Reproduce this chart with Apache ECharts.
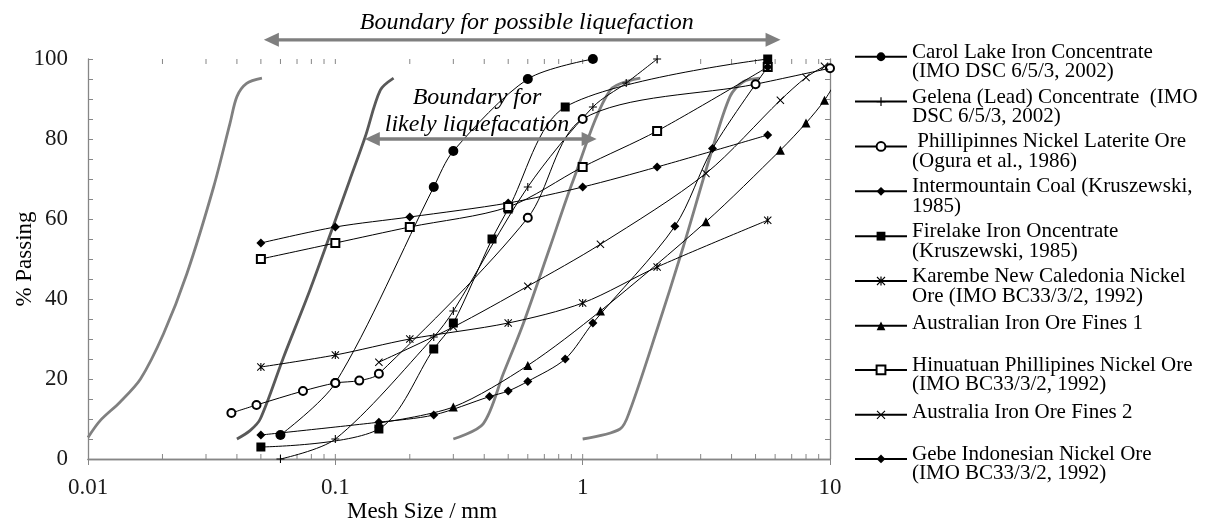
<!DOCTYPE html>
<html>
<head>
<meta charset="utf-8">
<script src="https://cdn.jsdelivr.net/npm/echarts@6/dist/echarts.min.js"></script>
<style>
  html, body { margin: 0; background: #fff; }
  #chart { width: 1211px; height: 527px; }
</style>
</head>
<body>
<div id="chart"></div>
<script>
// measured points [mesh size mm, % passing]
const carolLake = [[0.06, 6], [0.1, 19], [0.25, 68], [0.3, 77], [0.6, 95], [1.1, 100]];
const gelena = [[0.06, 0], [0.1, 5], [0.25, 30.5], [0.3, 37], [0.6, 68], [1.1, 88], [1.5, 94], [2, 100]];
const phillipinnes = [[0.038, 11.5], [0.048, 13.5], [0.074, 17], [0.1, 19], [0.125, 19.6], [0.15, 21.3], [0.6, 60.3], [1, 85], [5, 93.7], [10, 97.7]];
const intermountain = [[0.05, 54], [0.1, 58], [0.2, 60.5], [0.5, 64], [1, 68], [2, 73], [5.6, 81]];
const firelake = [[0.05, 3], [0.15, 7.5], [0.25, 27.5], [0.3, 34], [0.43, 55], [0.5, 62.5], [0.85, 88], [5.6, 100]];
const karembe = [[0.05, 23], [0.1, 26], [0.2, 30], [0.5, 34], [1, 39], [2, 48], [5.6, 59.7]];
const ausFines1 = [[0.15, 9], [0.3, 13], [0.6, 23.4], [1.18, 37], [3.15, 59.3], [6.3, 77.2], [8, 84], [9.5, 89.7], [11.2, 97]];
const hinuatuan = [[0.05, 50], [0.1, 54], [0.2, 58], [0.5, 63], [1, 73], [2, 82], [5.6, 98]];
const ausFines2 = [[0.15, 24.2], [0.3, 33], [0.6, 43.2], [1.18, 53.7], [3.15, 71.4], [6.3, 89.7], [8, 95.4], [9.5, 98.2]];
const gebe = [[0.05, 6], [0.15, 9.2], [0.25, 11], [0.42, 15.6], [0.5, 17], [0.6, 19.4], [0.85, 25], [1.1, 34], [2.36, 58.2], [3.35, 77.6], [5.6, 98]];

// boundary curves (grey)
const possibleLeft = [[0.01, 5.4], [0.0112, 9.6], [0.01346, 14.2], [0.0163, 20], [0.0202, 31.3], [0.0251, 46.3], [0.0322, 68], [0.0375, 83.9], [0.04, 90.6], [0.0438, 93.9], [0.0505, 95.2]];
const likelyLeft = [[0.04, 5], [0.0452, 7.1], [0.0497, 10], [0.0617, 25.4], [0.0789, 42.2], [0.1, 59.7], [0.1143, 69.7], [0.132, 80.5], [0.152, 92.2], [0.172, 95.2]];
const likelyRight = [[0.3, 5], [0.396, 8.8], [0.4775, 21.3], [0.575, 33.8], [0.738, 53], [0.916, 69.7], [1.29, 92.2], [1.71, 95.2]];
const possibleRight = [[1, 5], [1.416, 7.5], [1.55, 12], [1.99, 32], [2.55, 53], [3.27, 75.5], [3.94, 90.6], [4.46, 94.3], [5.2, 95.2]];

// annotation arrows / labels (data coords)
const possibleArrow = [[0.0514, 104.8], [6.31, 104.8]];
const likelyArrow = [[0.1316, 80], [1.139, 80]];
const possibleLabelAt = [0.594, 109.2];
const likelyLabelAt = [0.374, 86.9];

// inner log ticks
const logTicks = [0.02, 0.03, 0.04, 0.05, 0.06, 0.07, 0.08, 0.09, 0.1,
  0.2, 0.3, 0.4, 0.5, 0.6, 0.7, 0.8, 0.9, 1, 2, 3, 4, 5, 6, 7, 8, 9];

const serif = '"Liberation Serif", "Times New Roman", serif';
const axisGrey = '#868686';

const plusPath = 'path://M3.9,0H5.1V3.9H9V5.1H5.1V9H3.9V5.1H0V3.9H3.9Z';
const crossPath = 'path://M0,0.8L0.8,0L4.5,3.7L8.2,0L9,0.8L5.3,4.5L9,8.2L8.2,9L4.5,5.3L0.8,9L0,8.2L3.7,4.5Z';
const starPath = 'path://M0,0.8L0.8,0L4.5,3.7L8.2,0L9,0.8L5.3,4.5L9,8.2L8.2,9L4.5,5.3L0.8,9L0,8.2L3.7,4.5ZM3.9,0H5.1V9H3.9Z';

const materials = [
  {name: 'Carol Lake Iron Concentrate\n(IMO DSC 6/5/3, 2002)', data: carolLake, symbol: 'circle', size: 10},
  {name: 'Gelena (Lead) Concentrate  (IMO\nDSC 6/5/3, 2002)', data: gelena, symbol: plusPath, size: 8},
  {name: ' Phillipinnes Nickel Laterite Ore\n(Ogura et al., 1986)', data: phillipinnes, symbol: 'emptyCircle', size: 8, empty: true},
  {name: 'Intermountain Coal (Kruszewski,\n1985)', data: intermountain, symbol: 'diamond', size: 9},
  {name: 'Firelake Iron Oncentrate\n(Kruszewski, 1985)', data: firelake, symbol: 'rect', size: 9},
  {name: 'Karembe New Caledonia Nickel\nOre (IMO BC33/3/2, 1992)', data: karembe, symbol: starPath, size: 8},
  {name: 'Australian Iron Ore Fines 1', data: ausFines1, symbol: 'triangle', size: 9},
  {name: 'Hinuatuan Phillipines Nickel Ore\n(IMO BC33/3/2, 1992)', data: hinuatuan, symbol: 'emptyRect', size: 8, empty: true},
  {name: 'Australia Iron Ore Fines 2', data: ausFines2, symbol: crossPath, size: 8},
  {name: 'Gebe Indonesian Nickel Ore\n(IMO BC33/3/2, 1992)', data: gebe, symbol: 'diamond', size: 9}
];

const boundaries = [
  {data: possibleLeft, color: '#808080'},
  {data: likelyLeft, color: '#595959'},
  {data: likelyRight, color: '#808080'},
  {data: possibleRight, color: '#808080'}
];

const chart = echarts.init(document.getElementById('chart'));

let series = [];
boundaries.forEach(b => {
  series.push({
    type: 'line', data: b.data, smooth: 0.3, symbol: 'none', silent: true,
    lineStyle: {color: b.color, width: 2.8}, z: 1
  });
});
series.push({
  type: 'custom', silent: true, z: 1,
  data: logTicks.map(v => [v, 0]),
  encode: {x: 0, y: 1},
  renderItem: (params, api) => {
    const b = api.coord([api.value(0), 0]);
    const t = api.coord([api.value(0), 100]);
    const st = {stroke: axisGrey, lineWidth: 1};
    return {type: 'group', children: [
      {type: 'line', shape: {x1: b[0], y1: b[1], x2: b[0], y2: b[1] - 5}, style: st},
      {type: 'line', shape: {x1: t[0], y1: t[1], x2: t[0], y2: t[1] + 5}, style: st}
    ]};
  }
});
materials.forEach(m => {
  series.push({
    name: m.name, type: 'line', data: m.data, smooth: 0.3,
    symbol: m.symbol, symbolSize: m.size, showSymbol: true,
    lineStyle: {color: '#000', width: 1},
    itemStyle: {color: '#000', borderColor: '#000', borderWidth: m.empty ? 1 : 0},
    z: 3
  });
});

chart.setOption({
  animation: false,
  backgroundColor: '#fff',
  grid: {left: 88, right: 381, top: 59, bottom: 68, containLabel: false, outerBoundsMode: 'none'},
  legend: {
    orient: 'vertical', left: 854, top: 32, padding: 0,
    itemGap: -5.4, itemWidth: 52, itemHeight: 11, selectedMode: false,
    formatter: name => name.split('\n').map(s => '{t|' + s + '}').join('\n'),
    textStyle: {
      fontFamily: serif, fontSize: 21, lineHeight: 19.5, color: '#000',
      rich: {t: {fontFamily: serif, fontSize: 21, lineHeight: 19.5, color: '#000'}}
    },
    data: materials.map(m => m.name.indexOf('\n') < 0
      ? {name: m.name, textStyle: {padding: [12.5, 0, 17.5, 0]}}
      : {name: m.name, textStyle: {padding: [10.5, 0, 0, 0]}})
  },
  xAxis: [{
    type: 'log', logBase: 10, min: 0.01, max: 10,
    name: 'Mesh Size / mm', nameLocation: 'middle', nameGap: 41, nameMoveOverlap: false,
    nameTextStyle: {fontFamily: serif, fontSize: 23, color: '#000', padding: [0, 74, 0, 0]},
    axisLine: {lineStyle: {color: axisGrey, width: 1.3}},
    axisTick: {show: true, inside: false, length: 6, lineStyle: {color: axisGrey}},
    axisLabel: {fontFamily: serif, fontSize: 23, color: '#1a1a1a', margin: 17},
    splitLine: {show: false}
  }, {
    type: 'log', logBase: 10, min: 0.01, max: 10, position: 'top',
    axisLine: {show: true, lineStyle: {color: axisGrey, width: 1.3}},
    axisTick: {show: false}, axisLabel: {show: false}, splitLine: {show: false}
  }],
  yAxis: [{
    type: 'value', min: 0, max: 100, interval: 5,
    name: '% Passing', nameLocation: 'middle', nameGap: 52, nameMoveOverlap: false,
    nameTextStyle: {fontFamily: serif, fontSize: 23, color: '#000'},
    axisLine: {show: true, lineStyle: {color: axisGrey, width: 1.3}},
    axisTick: {show: true, inside: true, length: 5, lineStyle: {color: axisGrey}},
    axisLabel: {fontFamily: serif, fontSize: 23, color: '#1a1a1a', margin: 20,
      formatter: v => (v % 20 === 0 ? String(v) : '')},
    splitLine: {show: false}
  }, {
    type: 'value', min: 0, max: 100, interval: 5, position: 'right',
    axisLine: {show: true, lineStyle: {color: axisGrey, width: 1.3}},
    axisTick: {show: true, inside: true, length: 5, lineStyle: {color: axisGrey}},
    axisLabel: {show: false}, splitLine: {show: false}
  }],
  series: series
});

// arrows and italic labels
const arrowGrey = '#7f7f7f';
function arrow(a, b) {
  const p1 = chart.convertToPixel({gridIndex: 0}, a);
  const p2 = chart.convertToPixel({gridIndex: 0}, b);
  const y = p1[1], hl = 15, hw = 7;
  return [
    {type: 'line', shape: {x1: p1[0] + hl - 1, y1: y, x2: p2[0] - hl + 1, y2: y},
      style: {stroke: arrowGrey, lineWidth: 3.3}, z: 5},
    {type: 'polygon', shape: {points: [[p1[0], y], [p1[0] + hl, y - hw], [p1[0] + hl, y + hw]]},
      style: {fill: arrowGrey}, z: 5},
    {type: 'polygon', shape: {points: [[p2[0], y], [p2[0] - hl, y - hw], [p2[0] - hl, y + hw]]},
      style: {fill: arrowGrey}, z: 5}
  ];
}
function label(at, text) {
  const p = chart.convertToPixel({gridIndex: 0}, at);
  return {type: 'text', z: 6, style: {
    text: text, x: p[0], y: p[1], align: 'center', verticalAlign: 'middle',
    fontFamily: serif, fontSize: 24, fontStyle: 'italic', lineHeight: 27, fill: '#000'
  }};
}
chart.setOption({
  graphic: [].concat(
    arrow(possibleArrow[0], possibleArrow[1]),
    arrow(likelyArrow[0], likelyArrow[1]),
    [label(possibleLabelAt, 'Boundary for possible liquefaction'),
     label(likelyLabelAt, 'Boundary for\nlikely liquefacation')]
  )
});
</script>
</body>
</html>
